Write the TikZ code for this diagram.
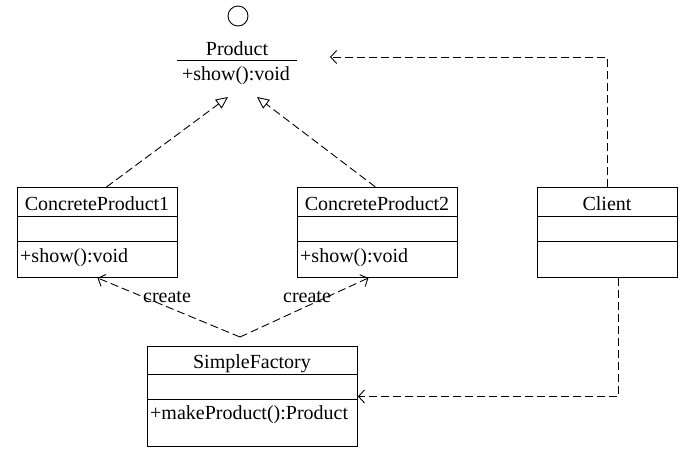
\documentclass[tikz,border=0pt]{standalone}
\usepackage{fontspec}
\setmainfont{Liberation Serif}
\usetikzlibrary{arrows.meta}
\begin{document}
\begin{tikzpicture}[x=1pt,y=-1pt,
  every node/.style={font=\fontsize{20}{24}\selectfont},
  box/.style={draw, line width=0.9pt, inner sep=0pt, anchor=north west},
  txt/.style={anchor=base, inner sep=0pt},
  ltxt/.style={anchor=base west, inner sep=0pt},
  rule/.style={line width=0.9pt},
  dep/.style={line width=0.9pt, dash pattern=on 8pt off 4pt},
  opena/.style={-{Straight Barb[length=6pt,width=13pt,line width=0.9pt]}},
  realize/.style={-{Triangle[open,length=12pt,width=11pt,line width=0.9pt]}}
]
\useasboundingbox (0,0) rectangle (687,451);
\fill[white] (0,0) rectangle (687,451);

% Product interface
\node[draw, circle, line width=0.9pt, minimum size=20pt, inner sep=0pt] (lolli) at (238,16) {};
\node[txt] (prod) at (237,55) {Product};
\draw[rule] (177,60) -- (297,60);
\node[txt] (pshow) at (236,80) {+show():void};
\coordinate (tipL) at (228,97);
\coordinate (tipR) at (257,97);
\coordinate (tipC) at (330,57);

% ConcreteProduct1
\node[box, minimum width=160pt, minimum height=90pt] (cp1) at (17,187) {};
\draw[rule] (17,216) -- (177,216);
\draw[rule] (17,241) -- (177,241);
\node[txt] (cp1t) at (97,210) {ConcreteProduct1};
\node[ltxt] (cp1m) at (20,262) {+show():void};

% ConcreteProduct2
\node[box, minimum width=160pt, minimum height=90pt] (cp2) at (297,187) {};
\draw[rule] (297,216) -- (457,216);
\draw[rule] (297,241) -- (457,241);
\node[txt] (cp2t) at (377,210) {ConcreteProduct2};
\node[ltxt] (cp2m) at (300,262) {+show():void};

% Client
\node[box, minimum width=140pt, minimum height=90pt] (client) at (537,187) {};
\draw[rule] (537,216) -- (677,216);
\draw[rule] (537,241) -- (677,241);
\node[txt] (clientt) at (607,210) {Client};

% SimpleFactory
\node[box, minimum width=210pt, minimum height=100pt] (sf) at (147,346) {};
\draw[rule] (147,374) -- (357,374);
\draw[rule] (147,399) -- (357,399);
\node[txt] (sft) at (252,368) {SimpleFactory};
\node[ltxt] (sfm) at (150,419) {+makeProduct():Product};
\coordinate (fork) at (240,337);

% realizations
\draw[dep, realize] ([xshift=9pt]cp1.north) -- (tipL);
\draw[dep, realize] ([xshift=-2pt]cp2.north) -- (tipR);

% client dependencies
\draw[dep, opena] (client.north) |- (tipC);
\draw[dep, opena] ([xshift=11pt]client.south) |- (sf.east);

% create
\draw[dep, opena] (fork) -- (cp1.south);
\draw[dep, opena] (fork) -- ([xshift=-9pt]cp2.south);
\node[txt] (c1) at (167,302) {create};
\node[txt] (c2) at (307,302) {create};
\end{tikzpicture}
\end{document}
